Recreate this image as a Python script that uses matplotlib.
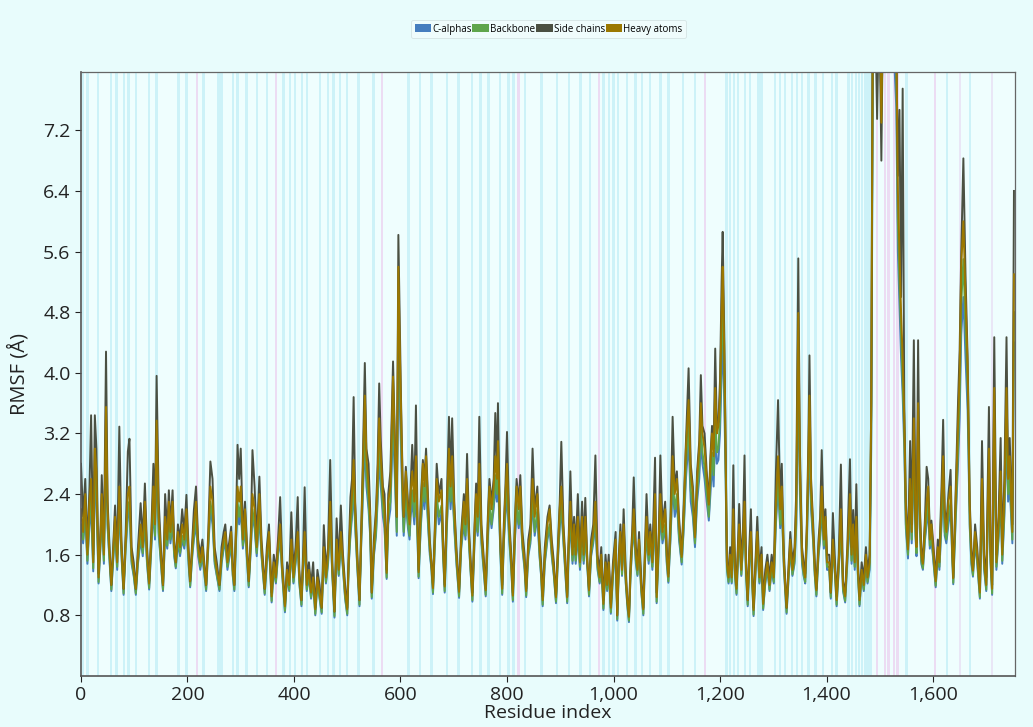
import matplotlib
matplotlib.use("Agg")
import matplotlib.pyplot as plt
from matplotlib.ticker import FuncFormatter
from matplotlib.patches import Patch

# residue breakpoints
residue = [
    0, 4, 8, 12, 16, 19, 23, 26, 29, 33, 37, 39,
    43, 47, 50, 53, 57, 61, 64, 68, 72, 76, 80, 84,
    88, 91, 95, 99, 103, 107, 112, 116, 120, 124, 128, 132,
    136, 139, 142, 146, 150, 154, 158, 162, 165, 168, 172, 175,
    178, 182, 186, 190, 194, 198, 202, 205, 209, 212, 216, 220,
    224, 228, 232, 235, 239, 243, 247, 251, 255, 260, 264, 268,
    271, 275, 279, 282, 285, 288, 291, 294, 297, 300, 304, 308,
    312, 315, 319, 322, 326, 330, 335, 339, 342, 345, 349, 353,
    358, 362, 366, 370, 374, 378, 383, 387, 391, 395, 399, 403,
    407, 410, 414, 417, 420, 424, 428, 432, 436, 440, 444, 448,
    452, 456, 460, 464, 468, 472, 476, 480, 484, 488, 492, 496,
    500, 503, 506, 509, 512, 515, 519, 523, 526, 529, 533, 536,
    540, 543, 546, 550, 554, 557, 560, 563, 567, 570, 574, 577,
    581, 586, 590, 593, 596, 599, 601, 604, 606, 610, 614, 617,
    619, 622, 626, 629, 632, 634, 638, 642, 645, 648, 652, 655,
    658, 661, 665, 668, 672, 677, 680, 683, 687, 691, 694, 697,
    701, 705, 710, 714, 719, 722, 725, 729, 732, 735, 739, 742,
    745, 748, 752, 756, 760, 764, 767, 771, 775, 778, 781, 783,
    786, 788, 791, 794, 797, 800, 804, 808, 811, 815, 818, 822,
    825, 829, 833, 836, 840, 844, 848, 852, 857, 861, 864, 867,
    871, 876, 880, 884, 888, 892, 896, 899, 902, 906, 910, 913,
    916, 919, 923, 926, 929, 933, 937, 941, 944, 947, 951, 954,
    958, 962, 966, 970, 974, 977, 981, 985, 988, 991, 995, 999,
    1004, 1007, 1010, 1013, 1016, 1019, 1023, 1026, 1029, 1032, 1035, 1038,
    1042, 1045, 1048, 1052, 1056, 1059, 1062, 1066, 1069, 1073, 1078, 1081,
    1085, 1088, 1092, 1097, 1100, 1103, 1107, 1111, 1115, 1119, 1123, 1128,
    1132, 1136, 1141, 1145, 1149, 1153, 1157, 1161, 1164, 1167, 1171, 1175,
    1179, 1182, 1185, 1188, 1191, 1194, 1197, 1200, 1203, 1205, 1208, 1210,
    1213, 1216, 1219, 1222, 1225, 1228, 1231, 1234, 1236, 1240, 1243, 1246,
    1249, 1252, 1255, 1258, 1261, 1263, 1267, 1270, 1274, 1278, 1281, 1285,
    1289, 1293, 1297, 1301, 1305, 1309, 1313, 1316, 1320, 1325, 1329, 1332,
    1336, 1340, 1343, 1347, 1350, 1354, 1357, 1360, 1363, 1366, 1368, 1371,
    1375, 1378, 1381, 1385, 1388, 1391, 1395, 1398, 1401, 1405, 1408, 1412,
    1416, 1419, 1423, 1427, 1431, 1435, 1439, 1444, 1447, 1450, 1453, 1456,
    1459, 1462, 1466, 1470, 1474, 1477, 1481, 1484, 1487, 1491, 1495, 1499,
    1503, 1507, 1512, 1518, 1524, 1528, 1531, 1534, 1537, 1540, 1543, 1546,
    1549, 1553, 1557, 1560, 1564, 1567, 1569, 1572, 1575, 1578, 1581, 1585,
    1588, 1591, 1594, 1597, 1601, 1605, 1609, 1612, 1616, 1619, 1622, 1625,
    1629, 1633, 1636, 1638, 1642, 1647, 1650, 1653, 1657, 1661, 1665, 1669,
    1672, 1675, 1679, 1683, 1688, 1692, 1696, 1700, 1705, 1708, 1711, 1715,
    1719, 1723, 1727, 1730, 1734, 1738, 1741, 1744, 1749, 1752,
]

heavy_atoms = [
    2.2, 1.9, 2.4, 1.6, 2.3, 2.6, 1.5, 3.0, 2.7, 1.3, 1.9, 2.4,
    1.6, 3.55, 2.2, 1.7, 1.2, 1.7, 2.1, 1.5, 2.5, 1.7, 1.15, 1.8,
    2.4, 2.5, 1.6, 1.4, 1.15, 1.6, 2.0, 1.7, 2.3, 1.6, 1.22, 1.8,
    2.5, 2.0, 3.37, 2.1, 1.6, 1.2, 2.1, 1.8, 2.3, 1.9, 2.3, 1.7,
    1.5, 1.9, 1.7, 2.0, 1.8, 2.2, 1.6, 1.25, 1.7, 2.0, 2.3, 1.7,
    1.5, 1.7, 1.4, 1.2, 1.8, 2.5, 2.3, 1.6, 1.4, 1.2, 1.6, 1.8,
    1.9, 1.5, 1.7, 1.9, 1.4, 1.2, 1.9, 2.5, 2.3, 2.5, 1.8, 2.2,
    1.6, 1.25, 1.8, 2.4, 2.2, 1.7, 2.4, 1.7, 1.4, 1.15, 1.6, 1.9,
    1.05, 1.5, 1.3, 1.7, 2.0, 1.4, 0.92, 1.4, 1.2, 1.8, 1.3, 1.6,
    1.9, 1.3, 1.0, 1.5, 1.9, 1.2, 1.4, 1.1, 1.3, 0.88, 1.3, 1.1,
    0.9, 1.7, 1.3, 1.6, 2.3, 1.4, 0.85, 1.8, 1.4, 1.9, 1.5, 1.1,
    0.88, 1.6, 2.1, 2.4, 2.85, 2.2, 1.5, 1.0, 1.8, 2.6, 3.7, 2.9,
    2.5, 2.1, 1.1, 1.7, 2.1, 2.6, 3.4, 2.9, 2.4, 2.2, 1.36, 2.3,
    2.5, 3.95, 2.9, 2.1, 5.4, 4.2, 3.5, 2.5, 2.1, 2.7, 2.2, 2.0,
    2.4, 2.7, 2.3, 2.9, 2.0, 1.37, 2.2, 2.8, 2.5, 2.9, 2.2, 1.73,
    1.5, 1.16, 2.0, 2.6, 2.3, 2.45, 1.7, 1.18, 2.2, 3.0, 2.5, 2.9,
    2.2, 1.6, 1.11, 1.8, 2.3, 2.0, 2.6, 1.8, 1.4, 1.06, 1.9, 2.4,
    2.1, 2.8, 1.9, 1.5, 1.13, 2.0, 2.5, 2.2, 2.5, 2.9, 2.6, 3.1,
    2.2, 1.66, 1.15, 1.9, 2.4, 2.8, 2.0, 1.5, 1.06, 2.0, 2.5, 2.2,
    2.5, 1.8, 1.5, 1.12, 1.7, 1.9, 2.6, 2.1, 2.4, 1.7, 1.4, 1.0,
    1.6, 2.0, 2.2, 1.7, 1.4, 1.04, 1.7, 2.2, 2.5, 1.9, 1.4, 1.04,
    1.8, 2.3, 1.6, 2.0, 1.6, 2.1, 1.5, 2.1, 1.6, 2.1, 1.5, 1.13,
    1.7, 1.9, 2.3, 1.5, 1.3, 1.6, 0.95, 1.5, 1.2, 1.5, 0.9, 1.4,
    1.8, 0.8, 1.5, 1.9, 1.4, 2.0, 1.3, 1.0, 0.78, 1.4, 1.8, 2.2,
    1.6, 1.4, 1.8, 1.2, 0.88, 1.6, 2.1, 1.6, 1.9, 1.5, 2.4, 1.04,
    1.8, 2.4, 1.9, 2.2, 1.6, 1.31, 2.0, 2.9, 2.4, 2.6, 2.0, 1.57,
    2.2, 3.0, 3.64, 2.7, 2.4, 1.83, 2.6, 3.0, 3.6, 3.2, 3.0, 2.6,
    2.26, 2.8, 3.2, 2.9, 3.8, 3.2, 3.3, 3.7, 4.8, 5.4, 4.3, 3.3,
    1.48, 1.3, 1.6, 1.3, 2.2, 1.4, 1.15, 1.7, 2.0, 1.4, 1.8, 2.3,
    1.4, 1.0, 1.6, 1.9, 1.2, 0.87, 1.5, 1.9, 1.3, 1.6, 0.95, 1.3,
    1.5, 1.2, 1.5, 1.3, 2.3, 2.9, 2.2, 2.5, 1.5, 0.9, 1.4, 1.8,
    1.4, 1.6, 2.2, 4.79, 2.8, 1.6, 1.4, 1.3, 1.9, 2.9, 3.7, 2.5,
    1.9, 1.4, 1.13, 1.7, 2.0, 2.5, 1.8, 2.1, 1.5, 1.5, 1.1, 1.8,
    1.4, 1.0, 1.5, 2.2, 1.2, 1.05, 1.6, 2.4, 1.6, 2.0, 1.5, 2.1,
    1.4, 1.0, 1.4, 1.2, 1.6, 1.3, 1.5, 3.6, 9.0, 9.5, 9.0, 9.5,
    7.3, 9.5, 10.0, 10.0, 9.5, 9.0, 8.5, 6.4, 5.6, 4.8, 4.2, 3.4,
    2.2, 1.67, 2.6, 1.9, 3.4, 2.1, 1.7, 3.6, 2.2, 1.6, 1.48, 2.0,
    2.3, 2.5, 1.8, 2.0, 1.6, 1.25, 1.7, 1.5, 2.3, 2.9, 2.1, 1.9,
    2.3, 2.5, 1.7, 1.29, 2.2, 3.3, 4.0, 5.42, 6.0, 5.0, 4.1, 2.2,
    1.6, 1.39, 1.9, 1.6, 1.1, 2.6, 1.5, 1.2, 3.0, 1.6, 1.15, 3.8,
    1.5, 2.0, 2.7, 1.6, 2.4, 3.8, 2.6, 2.9, 1.9, 5.3,
]

side_chains = [
    2.8, 2.1, 2.6, 1.7, 2.5, 3.44, 1.6, 3.44, 3.0, 1.35, 2.0, 2.65,
    1.7, 4.28, 2.3, 1.8, 1.2, 1.8, 2.25, 1.6, 3.29, 1.8, 1.15, 1.9,
    2.96, 3.13, 1.7, 1.5, 1.15, 1.7, 2.28, 1.8, 2.54, 1.7, 1.25, 1.9,
    2.8, 2.1, 3.96, 2.3, 1.7, 1.2, 2.4, 1.9, 2.45, 2.0, 2.45, 1.8,
    1.5, 2.0, 1.8, 2.2, 1.9, 2.39, 1.7, 1.25, 1.8, 2.19, 2.5, 1.8,
    1.6, 1.8, 1.45, 1.2, 1.9, 2.83, 2.6, 1.7, 1.5, 1.2, 1.7, 1.9,
    2.0, 1.6, 1.8, 1.97, 1.5, 1.2, 2.0, 3.05, 2.6, 3.0, 1.9, 2.3,
    1.7, 1.25, 1.9, 2.98, 2.5, 1.8, 2.63, 1.8, 1.5, 1.15, 1.7, 2.0,
    1.1, 1.6, 1.4, 1.8, 2.36, 1.5, 0.95, 1.5, 1.3, 2.16, 1.4, 1.7,
    2.36, 1.4, 1.0, 1.6, 2.49, 1.3, 1.5, 1.2, 1.5, 0.9, 1.4, 1.2,
    0.9, 1.99, 1.4, 1.7, 2.85, 1.5, 0.85, 2.08, 1.5, 2.25, 1.6, 1.2,
    0.9, 1.7, 2.36, 2.6, 3.68, 2.3, 1.6, 1.0, 1.9, 2.76, 4.13, 3.0,
    2.8, 2.2, 1.1, 1.8, 2.2, 2.8, 3.86, 3.1, 2.5, 2.4, 1.4, 2.4,
    2.7, 4.15, 2.95, 2.1, 5.82, 4.5, 3.64, 2.6, 2.1, 2.76, 2.3, 2.1,
    2.5, 3.05, 2.4, 3.57, 2.1, 1.4, 2.3, 2.85, 2.6, 3.0, 2.3, 1.8,
    1.5, 1.2, 2.1, 2.8, 2.4, 2.6, 1.8, 1.2, 2.3, 3.42, 2.6, 3.4,
    2.3, 1.7, 1.15, 1.9, 2.4, 2.1, 2.93, 1.9, 1.5, 1.1, 2.0, 2.54,
    2.2, 3.42, 2.0, 1.6, 1.15, 2.1, 2.6, 2.3, 2.6, 3.47, 2.7, 3.6,
    2.3, 1.7, 1.2, 2.0, 2.5, 3.22, 2.1, 1.6, 1.1, 2.1, 2.6, 2.3,
    2.65, 1.9, 1.6, 1.15, 1.8, 2.0, 3.0, 2.2, 2.5, 1.8, 1.5, 1.05,
    1.7, 2.1, 2.25, 1.8, 1.5, 1.05, 1.8, 2.3, 3.09, 2.0, 1.5, 1.05,
    1.9, 2.7, 1.7, 2.1, 1.7, 2.4, 1.6, 2.3, 1.7, 2.35, 1.5, 1.15,
    1.8, 2.0, 2.91, 1.6, 1.4, 1.7, 1.0, 1.6, 1.3, 1.6, 0.95, 1.5,
    1.9, 0.8, 1.6, 2.0, 1.5, 2.2, 1.4, 1.0, 0.8, 1.5, 1.9, 2.62,
    1.7, 1.5, 1.9, 1.3, 0.9, 1.7, 2.4, 1.7, 2.0, 1.6, 2.88, 1.1,
    1.9, 2.91, 2.0, 2.3, 1.7, 1.35, 2.1, 3.42, 2.5, 2.7, 2.1, 1.6,
    2.3, 3.1, 4.06, 2.8, 2.5, 1.85, 2.7, 3.1, 3.97, 3.3, 3.2, 2.7,
    2.3, 2.9, 3.3, 3.0, 4.32, 3.3, 3.35, 3.9, 5.2, 5.86, 4.5, 3.35,
    1.5, 1.4, 1.7, 1.4, 2.78, 1.5, 1.2, 1.8, 2.27, 1.5, 1.9, 2.91,
    1.5, 1.0, 1.7, 2.2, 1.3, 0.9, 1.6, 2.1, 1.4, 1.7, 1.0, 1.4,
    1.6, 1.3, 1.6, 1.4, 2.7, 3.64, 2.3, 2.8, 1.6, 0.9, 1.5, 1.9,
    1.5, 1.7, 2.4, 5.51, 3.0, 1.7, 1.5, 1.35, 2.0, 3.1, 4.23, 2.6,
    2.0, 1.5, 1.15, 1.8, 2.1, 2.98, 1.9, 2.2, 1.6, 1.6, 1.1, 2.15,
    1.5, 1.05, 1.6, 2.79, 1.25, 1.1, 1.7, 2.86, 1.7, 2.19, 1.6, 2.53,
    1.5, 1.05, 1.5, 1.3, 1.7, 1.4, 1.6, 3.6, 9.0, 9.0, 7.35, 9.0,
    6.8, 9.5, 10.0, 10.0, 9.5, 9.0, 8.5, 6.6, 7.47, 5.0, 7.75, 3.6,
    2.3, 1.7, 3.1, 2.0, 4.43, 2.2, 1.75, 4.43, 2.3, 1.7, 1.5, 2.1,
    2.76, 2.6, 1.9, 2.05, 1.7, 1.3, 1.8, 1.6, 2.5, 3.38, 2.2, 2.0,
    2.4, 2.72, 1.8, 1.3, 2.3, 3.62, 4.3, 5.6, 6.83, 5.3, 4.2, 2.3,
    1.7, 1.4, 2.0, 1.7, 1.15, 3.1, 1.6, 1.3, 3.55, 1.7, 1.2, 4.47,
    1.6, 2.1, 3.14, 1.7, 2.6, 4.47, 2.7, 3.14, 2.0, 6.4,
]

backbone = [
    2.0, 1.8, 2.2, 1.52, 2.1, 2.35, 1.42, 2.7, 2.45, 1.24, 1.8, 2.2,
    1.52, 3.2, 2.0, 1.62, 1.14, 1.62, 1.9, 1.44, 2.3, 1.62, 1.09, 1.72,
    2.2, 2.3, 1.52, 1.34, 1.09, 1.52, 1.85, 1.62, 2.1, 1.52, 1.16, 1.72,
    2.3, 1.85, 3.05, 1.9, 1.52, 1.14, 1.9, 1.72, 2.1, 1.8, 2.1, 1.62,
    1.44, 1.8, 1.62, 1.85, 1.72, 2.0, 1.52, 1.19, 1.62, 1.85, 2.1, 1.62,
    1.44, 1.62, 1.34, 1.14, 1.72, 2.3, 2.1, 1.52, 1.34, 1.14, 1.52, 1.72,
    1.8, 1.44, 1.62, 1.8, 1.34, 1.14, 1.8, 2.3, 2.1, 2.3, 1.72, 2.0,
    1.52, 1.19, 1.72, 2.2, 2.0, 1.62, 2.2, 1.62, 1.34, 1.09, 1.52, 1.8,
    0.99, 1.44, 1.24, 1.62, 1.85, 1.34, 0.86, 1.34, 1.14, 1.72, 1.24, 1.52,
    1.8, 1.24, 0.94, 1.44, 1.8, 1.14, 1.34, 1.04, 1.24, 0.82, 1.24, 1.04,
    0.84, 1.62, 1.24, 1.52, 2.1, 1.34, 0.79, 1.72, 1.34, 1.8, 1.44, 1.04,
    0.82, 1.52, 1.9, 2.2, 2.6, 2.0, 1.44, 0.94, 1.72, 2.4, 3.35, 2.65,
    2.3, 1.9, 1.04, 1.62, 1.9, 2.4, 3.1, 2.65, 2.2, 2.0, 1.3, 2.1,
    2.3, 3.6, 2.65, 1.9, 4.9, 3.8, 3.2, 2.3, 1.9, 2.45, 2.0, 1.85,
    2.2, 2.45, 2.1, 2.65, 1.85, 1.31, 2.0, 2.55, 2.3, 2.65, 2.0, 1.65,
    1.44, 1.1, 1.85, 2.4, 2.1, 2.25, 1.62, 1.12, 2.0, 2.75, 2.3, 2.65,
    2.0, 1.52, 1.05, 1.72, 2.1, 1.85, 2.4, 1.72, 1.34, 1.0, 1.8, 2.2,
    1.9, 2.55, 1.8, 1.44, 1.07, 1.85, 2.3, 2.0, 2.3, 2.65, 2.4, 2.85,
    2.0, 1.58, 1.09, 1.8, 2.2, 2.55, 1.85, 1.44, 1.0, 1.85, 2.3, 2.0,
    2.3, 1.72, 1.44, 1.06, 1.62, 1.8, 2.4, 1.9, 2.2, 1.62, 1.34, 0.94,
    1.52, 1.85, 2.0, 1.62, 1.34, 0.98, 1.62, 2.0, 2.3, 1.8, 1.34, 0.98,
    1.72, 2.1, 1.52, 1.85, 1.52, 1.9, 1.44, 1.9, 1.52, 1.9, 1.44, 1.07,
    1.62, 1.8, 2.1, 1.44, 1.24, 1.52, 0.89, 1.44, 1.14, 1.44, 0.84, 1.34,
    1.72, 0.75, 1.44, 1.8, 1.34, 1.85, 1.24, 0.94, 0.73, 1.34, 1.72, 2.0,
    1.52, 1.34, 1.72, 1.14, 0.82, 1.52, 1.9, 1.52, 1.8, 1.44, 2.2, 0.98,
    1.72, 2.2, 1.8, 2.0, 1.52, 1.25, 1.85, 2.65, 2.2, 2.4, 1.85, 1.5,
    2.0, 2.75, 3.35, 2.45, 2.2, 1.75, 2.4, 2.75, 3.3, 2.95, 2.75, 2.4,
    2.1, 2.55, 2.95, 2.65, 3.45, 2.95, 3.0, 3.4, 4.4, 4.9, 3.9, 3.0,
    1.42, 1.24, 1.52, 1.24, 2.0, 1.34, 1.09, 1.62, 1.85, 1.34, 1.72, 2.1,
    1.34, 0.94, 1.52, 1.8, 1.14, 0.81, 1.44, 1.8, 1.24, 1.52, 0.89, 1.24,
    1.44, 1.14, 1.44, 1.24, 2.1, 2.65, 2.0, 2.3, 1.44, 0.84, 1.34, 1.72,
    1.34, 1.52, 2.0, 4.3, 2.55, 1.52, 1.34, 1.24, 1.8, 2.65, 3.35, 2.3,
    1.8, 1.34, 1.07, 1.62, 1.85, 2.3, 1.72, 1.9, 1.44, 1.44, 1.04, 1.72,
    1.34, 0.94, 1.44, 2.0, 1.14, 0.99, 1.52, 2.2, 1.52, 1.85, 1.44, 1.9,
    1.34, 0.94, 1.34, 1.14, 1.52, 1.24, 1.44, 3.3, 8.5, 9.0, 8.5, 9.0,
    7.8, 9.0, 9.5, 9.5, 9.0, 8.5, 8.0, 6.0, 5.2, 4.5, 3.9, 3.2,
    2.0, 1.6, 2.4, 1.8, 3.1, 1.9, 1.62, 3.3, 2.0, 1.52, 1.42, 1.85,
    2.1, 2.3, 1.72, 1.85, 1.52, 1.19, 1.62, 1.44, 2.1, 2.65, 1.9, 1.8,
    2.1, 2.3, 1.62, 1.23, 2.0, 3.0, 3.7, 4.9, 5.5, 4.6, 3.8, 2.0,
    1.52, 1.33, 1.8, 1.52, 1.04, 2.4, 1.44, 1.14, 2.75, 1.52, 1.09, 3.45,
    1.44, 1.85, 2.45, 1.52, 2.2, 3.45, 2.4, 2.65, 1.8, 4.8,
]

c_alphas = [
    1.95, 1.75, 2.1, 1.48, 2.0, 2.2, 1.38, 2.5, 2.3, 1.22, 1.75, 2.1,
    1.48, 2.9, 1.95, 1.58, 1.12, 1.58, 1.85, 1.4, 2.2, 1.58, 1.07, 1.68,
    2.1, 2.2, 1.48, 1.32, 1.07, 1.48, 1.8, 1.58, 2.0, 1.48, 1.14, 1.68,
    2.2, 1.8, 2.8, 1.85, 1.48, 1.12, 1.85, 1.68, 2.0, 1.75, 2.0, 1.58,
    1.42, 1.75, 1.58, 1.8, 1.68, 1.95, 1.48, 1.17, 1.58, 1.8, 2.0, 1.58,
    1.4, 1.58, 1.32, 1.12, 1.68, 2.2, 2.0, 1.48, 1.32, 1.12, 1.48, 1.68,
    1.75, 1.4, 1.58, 1.75, 1.32, 1.12, 1.75, 2.2, 2.0, 2.2, 1.68, 1.95,
    1.48, 1.17, 1.68, 2.1, 1.95, 1.58, 2.1, 1.58, 1.32, 1.07, 1.48, 1.75,
    0.97, 1.4, 1.22, 1.58, 1.8, 1.32, 0.84, 1.32, 1.12, 1.68, 1.22, 1.48,
    1.75, 1.22, 0.92, 1.4, 1.75, 1.12, 1.32, 1.02, 1.22, 0.8, 1.22, 1.02,
    0.82, 1.58, 1.22, 1.48, 2.0, 1.32, 0.77, 1.68, 1.32, 1.75, 1.4, 1.02,
    0.8, 1.48, 1.85, 2.1, 2.45, 1.95, 1.4, 0.92, 1.68, 2.3, 3.1, 2.5,
    2.2, 1.85, 1.02, 1.58, 1.85, 2.3, 2.9, 2.5, 2.1, 1.95, 1.28, 2.0,
    2.2, 3.3, 2.5, 1.85, 4.4, 3.5, 3.0, 2.2, 1.85, 2.3, 1.95, 1.8,
    2.1, 2.3, 2.0, 2.5, 1.8, 1.29, 1.95, 2.4, 2.2, 2.5, 1.95, 1.6,
    1.42, 1.08, 1.8, 2.3, 2.0, 2.15, 1.58, 1.1, 1.95, 2.6, 2.2, 2.5,
    1.95, 1.48, 1.03, 1.68, 2.0, 1.8, 2.3, 1.68, 1.32, 0.98, 1.75, 2.1,
    1.85, 2.4, 1.75, 1.4, 1.05, 1.8, 2.2, 1.95, 2.2, 2.5, 2.3, 2.65,
    1.95, 1.54, 1.07, 1.75, 2.1, 2.4, 1.8, 1.4, 0.98, 1.8, 2.2, 1.95,
    2.2, 1.68, 1.4, 1.04, 1.58, 1.75, 2.3, 1.85, 2.1, 1.58, 1.32, 0.92,
    1.48, 1.8, 1.95, 1.58, 1.32, 0.96, 1.58, 1.95, 2.2, 1.75, 1.32, 0.96,
    1.68, 2.0, 1.48, 1.8, 1.48, 1.85, 1.4, 1.85, 1.48, 1.85, 1.42, 1.05,
    1.58, 1.75, 2.0, 1.4, 1.22, 1.48, 0.87, 1.4, 1.12, 1.4, 0.82, 1.32,
    1.68, 0.73, 1.4, 1.75, 1.32, 1.8, 1.22, 0.92, 0.71, 1.32, 1.68, 1.95,
    1.48, 1.32, 1.68, 1.12, 0.8, 1.48, 1.85, 1.48, 1.75, 1.4, 2.1, 0.96,
    1.68, 2.1, 1.75, 1.95, 1.48, 1.23, 1.8, 2.5, 2.1, 2.3, 1.8, 1.47,
    1.95, 2.6, 3.1, 2.3, 2.1, 1.7, 2.3, 2.6, 3.1, 2.8, 2.6, 2.3,
    2.05, 2.4, 2.8, 2.5, 3.2, 2.8, 2.85, 3.2, 4.0, 4.5, 3.6, 2.85,
    1.4, 1.22, 1.48, 1.22, 1.95, 1.32, 1.07, 1.58, 1.8, 1.32, 1.68, 2.0,
    1.32, 0.92, 1.48, 1.75, 1.12, 0.79, 1.4, 1.75, 1.22, 1.48, 0.87, 1.22,
    1.4, 1.12, 1.4, 1.22, 2.0, 2.5, 1.95, 2.2, 1.4, 0.82, 1.32, 1.68,
    1.32, 1.48, 1.95, 3.9, 2.4, 1.48, 1.32, 1.22, 1.75, 2.5, 3.1, 2.2,
    1.75, 1.32, 1.05, 1.58, 1.8, 2.2, 1.68, 1.85, 1.4, 1.4, 1.02, 1.68,
    1.32, 0.92, 1.4, 1.95, 1.12, 0.97, 1.48, 2.1, 1.48, 1.8, 1.4, 1.85,
    1.32, 0.92, 1.32, 1.12, 1.48, 1.22, 1.4, 3.0, 8.0, 8.5, 8.0, 8.5,
    7.6, 8.5, 9.0, 9.0, 8.5, 8.0, 7.5, 5.6, 4.9, 4.2, 3.7, 3.0,
    1.95, 1.55, 2.3, 1.75, 2.9, 1.85, 1.58, 3.0, 1.95, 1.48, 1.4, 1.8,
    2.0, 2.2, 1.68, 1.8, 1.48, 1.17, 1.58, 1.4, 2.0, 2.5, 1.85, 1.75,
    2.0, 2.2, 1.58, 1.21, 1.95, 2.8, 3.4, 4.5, 5.0, 4.2, 3.5, 1.95,
    1.48, 1.31, 1.75, 1.48, 1.02, 2.3, 1.4, 1.12, 2.6, 1.48, 1.07, 3.2,
    1.4, 1.8, 2.3, 1.48, 2.1, 3.2, 2.3, 2.5, 1.75, 4.4,
]

# secondary-structure bands (residue centres)
strand_res = [4, 12, 32, 56, 67, 81, 89, 103, 128, 142, 183, 198, 230, 258, 264,
              286, 294, 311, 330, 349, 380, 393, 402, 415, 424, 449, 464, 474, 486,
              499, 521, 549, 615, 637, 658, 687, 709, 734, 750, 765, 787, 803, 812,
              834, 865, 894, 916, 938, 956, 981, 991, 1000, 1009, 1025, 1041, 1053,
              1069, 1088, 1103, 1131, 1153, 1212, 1219, 1226, 1234, 1247, 1256, 1272,
              1278, 1303, 1313, 1322, 1335, 1344, 1354, 1366, 1379, 1394, 1410, 1419,
              1441, 1448, 1455, 1461, 1467, 1473, 1479, 1484, 1550, 1626, 1669]
helix_res = [218, 366, 565, 822, 973, 1172, 1495, 1510, 1516, 1527, 1533, 1604]
faint_res = [1651, 1710]

series = [("C-alphas", c_alphas, "#467dbe"),
          ("Backbone", backbone, "#5fa54b"),
          ("Side chains", side_chains, "#4b5042"),
          ("Heavy atoms", heavy_atoms, "#9b7800")]

plt.rcParams["font.family"] = ["Open Sans", "DejaVu Sans"]

fig = plt.figure(figsize=(10.33, 7.27), dpi=100, facecolor="#e8fcfc")
ax = fig.add_axes([0.0784, 0.0702, 0.9042, 0.8308])
ax.set_facecolor("#effefe")

for r in strand_res:
    ax.axvspan(r - 2.2, r + 2.2, color="#cdf2f8", lw=0, zorder=0)
for r in helix_res:
    ax.axvspan(r - 2.5, r + 2.5, color="#ecdcf3", lw=0, zorder=0)
for r in faint_res:
    ax.axvspan(r - 2.0, r + 2.0, color="#e9e6f6", lw=0, zorder=0)

for name, vals, col in series:
    ax.plot(residue, vals, color=col, lw=1.4, zorder=2)

ax.set_xlim(0, 1754)
ax.set_ylim(0, 7.97)
ax.set_yticks([0.8, 1.6, 2.4, 3.2, 4.0, 4.8, 5.6, 6.4, 7.2])
ax.yaxis.set_major_formatter(FuncFormatter(lambda v, p: f"{v:.1f}"))
ax.set_xticks(range(0, 1601, 200))
ax.xaxis.set_major_formatter(FuncFormatter(lambda v, p: f"{int(v):,}"))
ax.tick_params(axis="both", labelsize=14, colors="#222222", length=4, width=0.8)
ax.tick_params(axis="x", pad=3)

for s in ["left", "bottom"]:
    ax.spines[s].set_color("#555555")
    ax.spines[s].set_linewidth(1.2)
for s in ["top", "right"]:
    ax.spines[s].set_color("#666666")
    ax.spines[s].set_linewidth(0.9)

ax.set_ylabel("RMSF (Å)", fontsize=14.5, color="#222222", labelpad=10)
ax.set_xlabel("Residue index", fontsize=14, color="#222222", labelpad=0)

handles = [Patch(facecolor=c, edgecolor="none", label=n) for n, v, c in series]
leg = fig.legend(handles=handles, loc="center", bbox_to_anchor=(0.531, 0.96),
                 ncol=4, fontsize=7, frameon=True, handlelength=1.7,
                 handleheight=0.9, handletextpad=0.1, columnspacing=0.1,
                 borderpad=0.35, fancybox=True)
leg.get_frame().set_facecolor("#f2fdfd")
leg.get_frame().set_edgecolor("#d0dede")
leg.get_frame().set_linewidth(0.6)

fig.savefig("out.png", dpi=100, facecolor=fig.get_facecolor())
